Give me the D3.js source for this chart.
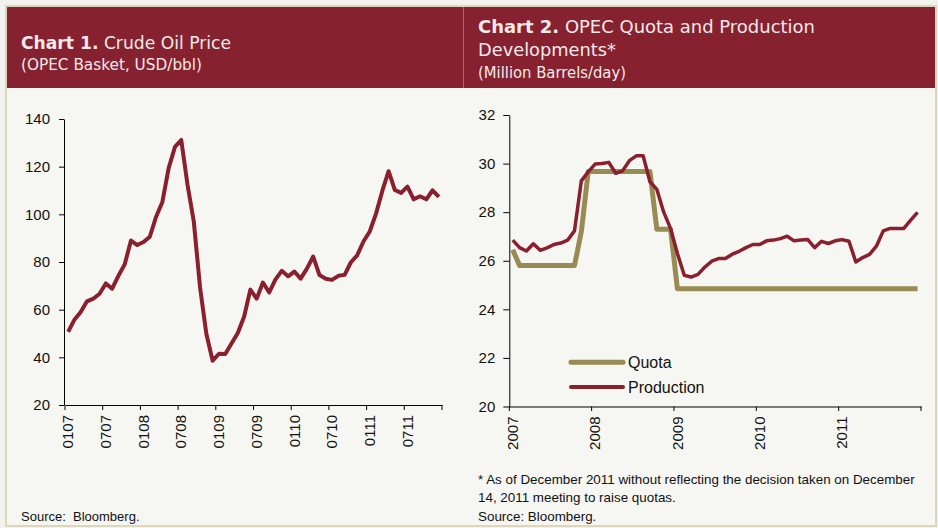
<!DOCTYPE html>
<html>
<head>
<meta charset="utf-8">
<script src="https://cdn.jsdelivr.net/npm/d3@7/dist/d3.min.js"></script>
<style>
body { margin: 0; background: #f3f3ee; }
svg text { font-family: "Liberation Sans", Arial, sans-serif; fill: #111; }
.hdr text { font-family: "DejaVu Sans", sans-serif; fill: #f3e9ea; }
.axis path, .axis line { stroke: #000; }
</style>
</head>
<body>
<div id="chart-area"></div>
<script>
// month categories, Jan 2007 .. Dec 2011
var yearCodes = ["07", "08", "09", "10", "11"];
var monthCodes = ["01","02","03","04","05","06","07","08","09","10","11","12"];
var months = [];
yearCodes.forEach(function(yy) {
    monthCodes.forEach(function(mm) { months.push(mm + yy); });
});

// Chart 1: OPEC basket price, USD/bbl
var oilPrice = [
    50.7, 55.8, 59.0, 63.5, 64.6, 66.7, 71.0, 68.8, 74.2, 79.0, 89.0, 87.1,
    88.4, 90.6, 99.0, 105.2, 119.4, 128.3, 131.2, 112.4, 96.9, 69.2, 49.8, 38.6,
    41.5, 41.4, 45.8, 50.2, 57.0, 68.4, 64.6, 71.4, 67.2, 72.7, 76.3, 74.0,
    76.0, 73.0, 77.2, 82.3, 74.5, 73.0, 72.5, 74.2, 74.6, 79.9, 82.8, 88.6,
    92.8, 100.3, 109.8, 118.1, 110.2, 109.0, 111.6, 106.3, 107.6, 106.3, 110.1, 107.3
];
var yTicks1 = [20, 40, 60, 80, 100, 120, 140];
var xLabels1 = ["0107", "0707", "0108", "0708", "0109", "0709", "0110", "0710", "0111", "0711"];

// Chart 2: OPEC quota and production, million barrels/day
var quota = [
    26.45, 25.8, 25.8, 25.8, 25.8, 25.8, 25.8, 25.8, 25.8, 25.8, 27.2, 29.67,
    29.67, 29.67, 29.67, 29.67, 29.67, 29.67, 29.67, 29.67, 29.67, 27.3, 27.3, 27.3,
    24.85, 24.85, 24.85, 24.85, 24.85, 24.85, 24.85, 24.85, 24.85, 24.85, 24.85, 24.85,
    24.85, 24.85, 24.85, 24.85, 24.85, 24.85, 24.85, 24.85, 24.85, 24.85, 24.85, 24.85,
    24.85, 24.85, 24.85, 24.85, 24.85, 24.85, 24.85, 24.85, 24.85, 24.85, 24.85, 24.85
];
var production = [
    26.85, 26.54, 26.40, 26.70, 26.43, 26.53, 26.67, 26.73, 26.85, 27.23, 29.29, 29.66,
    29.98, 30.00, 30.05, 29.60, 29.70, 30.12, 30.32, 30.32, 29.25, 28.94, 28.00, 27.33,
    26.30, 25.40, 25.33, 25.44, 25.74, 25.98, 26.09, 26.09, 26.27, 26.39, 26.54, 26.67,
    26.67, 26.82, 26.85, 26.91, 27.01, 26.82, 26.85, 26.87, 26.54, 26.80, 26.71, 26.82,
    26.87, 26.80, 25.95, 26.13, 26.26, 26.60, 27.23, 27.33, 27.33, 27.33, 27.67, 27.99
];
var yTicks2 = [20, 22, 24, 26, 28, 30, 32];
var xLabels2 = ["2007", "2008", "2009", "2010", "2011"];
var legendItems = ["Quota", "Production"];

var RED = "#8a1f2e", OLIVE = "#988b54";

var svg = d3.select("#chart-area").append("svg")
    .attr("width", 938)
    .attr("height", 528);

// frame + panel background
svg.append("rect").attr("x", 6).attr("y", 6).attr("width", 930).attr("height", 520)
    .attr("fill", "#f6f7f2").attr("stroke", "#dbd6bd").attr("stroke-width", 2);

// headers
var hdr = svg.append("g").attr("class", "hdr");
hdr.append("rect").attr("x", 7).attr("y", 7).attr("width", 928).attr("height", 81).attr("fill", "#86212f");
hdr.append("line").attr("x1", 463.5).attr("x2", 463.5).attr("y1", 7).attr("y2", 88)
    .attr("stroke", "#b5616c").attr("stroke-width", 1);

var t1 = hdr.append("text").attr("x", 21).attr("y", 49).attr("font-size", 18)
    .attr("textLength", 210).attr("lengthAdjust", "spacingAndGlyphs");
t1.append("tspan").attr("font-weight", "bold").text("Chart 1.");
t1.append("tspan").text(" Crude Oil Price");
hdr.append("text").attr("x", 21).attr("y", 70).attr("font-size", 15)
    .attr("textLength", 181).attr("lengthAdjust", "spacingAndGlyphs")
    .text("(OPEC Basket, USD/bbl)");

var t2 = hdr.append("text").attr("x", 478).attr("y", 33).attr("font-size", 18)
    .attr("textLength", 337).attr("lengthAdjust", "spacingAndGlyphs");
t2.append("tspan").attr("font-weight", "bold").text("Chart 2.");
t2.append("tspan").text(" OPEC Quota and Production");
hdr.append("text").attr("x", 478).attr("y", 56).attr("font-size", 18)
    .attr("textLength", 138).attr("lengthAdjust", "spacingAndGlyphs")
    .text("Developments*");
hdr.append("text").attr("x", 478).attr("y", 78).attr("font-size", 15)
    .attr("textLength", 148).attr("lengthAdjust", "spacingAndGlyphs")
    .text("(Million Barrels/day)");

/******************************** Chart 1 ********************************/
var x1 = d3.scaleBand().domain(months).range([65, 442]).padding(0);
var y1 = d3.scaleLinear().domain([20, 140]).range([405, 119]);

var g1 = svg.append("g");

g1.append("g").attr("class", "axis")
    .attr("transform", "translate(64,0)")
    .call(d3.axisLeft(y1).tickValues(yTicks1).tickSize(5).tickSizeOuter(0).tickPadding(9))
    .call(function(a) { a.selectAll("text").attr("font-size", 15).attr("font-family", null); });

var xAx1 = g1.append("g").attr("class", "axis")
    .attr("transform", "translate(0,405)")
    .call(d3.axisBottom(x1).tickValues(xLabels1).tickSize(0).tickSizeOuter(0).tickPadding(0));
xAx1.selectAll("text")
    .attr("font-size", 15).attr("font-family", null)
    .attr("transform", "rotate(-90)")
    .attr("x", -10).attr("y", 0).attr("dy", "0.35em")
    .style("text-anchor", "end");

// boundary tick marks (every 6 months + end)
var bounds1 = xLabels1.map(function(m) { return x1(m); }).concat([x1.range()[1]]);
g1.selectAll(".btick").data(bounds1).enter().append("line")
    .attr("x1", function(d) { return d; }).attr("x2", function(d) { return d; })
    .attr("y1", 405).attr("y2", 410).attr("stroke", "#000");

var line1 = d3.line()
    .x(function(d, i) { return x1(months[i]) + x1.bandwidth() / 2; })
    .y(function(d) { return y1(d); });

g1.append("path").datum(oilPrice)
    .attr("fill", "none").attr("stroke", RED).attr("stroke-width", 4)
    .attr("stroke-linejoin", "round").attr("d", line1);

g1.append("text").attr("x", 21).attr("y", 521).attr("font-size", 13)
    .attr("xml:space", "preserve").text("Source:  Bloomberg.");

/******************************** Chart 2 ********************************/
var x2 = d3.scaleBand().domain(months).range([509.3, 921]).padding(0);
var y2 = d3.scaleLinear().domain([20, 32]).range([406.5, 115]);

var g2 = svg.append("g");

g2.append("g").attr("class", "axis")
    .attr("transform", "translate(509.3,0)")
    .call(d3.axisLeft(y2).tickValues(yTicks2).tickSize(6).tickSizeOuter(0).tickPadding(8))
    .call(function(a) { a.selectAll("text").attr("font-size", 15).attr("font-family", null); });

var yearStarts = xLabels2.map(function(y) { return "01" + y.slice(2); });
var xAx2 = g2.append("g").attr("class", "axis")
    .attr("transform", "translate(0,406.5)")
    .call(d3.axisBottom(x2).tickValues(yearStarts).tickSize(0).tickSizeOuter(0).tickPadding(0)
        .tickFormat(function(d, i) { return xLabels2[i]; }));
xAx2.selectAll("text")
    .attr("font-size", 15).attr("font-family", null)
    .attr("transform", "rotate(-90)")
    .attr("x", -10).attr("y", 0).attr("dy", "0.35em")
    .style("text-anchor", "end");

var bounds2 = yearStarts.map(function(m) { return x2(m); }).concat([x2.range()[1]]);
g2.selectAll(".btick").data(bounds2).enter().append("line")
    .attr("x1", function(d) { return d; }).attr("x2", function(d) { return d; })
    .attr("y1", 406.5).attr("y2", 411).attr("stroke", "#000");

var line2 = d3.line()
    .x(function(d, i) { return x2(months[i]) + x2.bandwidth() / 2; })
    .y(function(d) { return y2(d); });

g2.append("path").datum(quota)
    .attr("fill", "none").attr("stroke", OLIVE).attr("stroke-width", 5)
    .attr("stroke-linejoin", "round").attr("d", line2);
g2.append("path").datum(production)
    .attr("fill", "none").attr("stroke", RED).attr("stroke-width", 3.5)
    .attr("stroke-linejoin", "round").attr("d", line2);

// legend
var legend = g2.selectAll(".legend").data(legendItems).enter().append("g")
    .attr("transform", function(d, i) { return "translate(570," + (362.3 + i * 24.7) + ")"; });
legend.append("line").attr("x1", 1).attr("x2", 53)
    .attr("stroke", function(d, i) { return i === 0 ? OLIVE : RED; })
    .attr("stroke-width", function(d, i) { return i === 0 ? 5 : 4; })
    .attr("stroke-linecap", "round");
legend.append("text").attr("x", 58).attr("dy", "0.35em").attr("font-size", 16)
    .text(function(d) { return d; });

// notes
var notes = ["* As of December 2011 without reflecting the decision taken on December",
             "14, 2011 meeting to raise quotas.",
             "Source: Bloomberg."];
g2.selectAll(".note").data(notes).enter().append("text")
    .attr("x", 478).attr("y", function(d, i) { return 483.5 + i * 18.7; })
    .attr("font-size", 13.4)
    .text(function(d) { return d; });
</script>
</body>
</html>
